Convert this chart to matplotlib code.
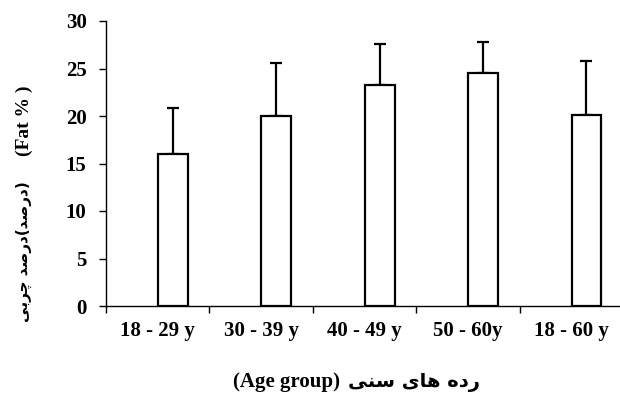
import numpy as np
import matplotlib
matplotlib.use("Agg")
import matplotlib.pyplot as plt
from matplotlib.ticker import FixedLocator, NullFormatter

# mean body fat per age group and the upper SD whisker
groups = ["18 - 29 y", "30 - 39 y", "40 - 49 y", "50 - 60y", "18 - 60 y"]
fat_mean = [16.0, 20.0, 23.3, 24.5, 20.1]
fat_sd = [4.8, 5.6, 4.3, 3.3, 5.7]
y_ticks = [0, 5, 10, 15, 20, 25, 30]

# Persian words are written in presentation forms, already in visual order
ylabel_fa = "\uFBFD\uFE91\uFEAE\uFB7C \uFEAA\uFEBB\uFEAD\uFEA9(\uFEAA\uFEBB\uFEAD\uFEA9)"
ylabel_en = "(Fat % )"
xlabel_en = "(Age group)"
xlabel_fa = "\uFBFD\uFEE8\uFEB3 \uFBFC\uFE8E\uFEEB \uFEE9\uFEA9\uFEAD"

serif = ["Liberation Serif", "DejaVu Sans"]

fig = plt.figure(figsize=(6.2, 3.95), dpi=100)
ax = fig.add_axes([106 / 620, 1 - 306 / 395, 517 / 620, 285 / 395])

x = np.arange(len(groups))
offset = 0.147
ax.bar(x + offset, fat_mean, width=0.29, color="white", edgecolor="black",
       linewidth=1.6, zorder=3)
ax.errorbar(x + offset, fat_mean, yerr=[np.zeros(len(fat_sd)), fat_sd],
            fmt="none", ecolor="black", elinewidth=1.6, capsize=4,
            capthick=1.6, zorder=2)

ax.set_xlim(-0.5, len(groups) - 0.5)
ax.set_ylim(0, 30)

# category boundaries carry the tick marks, centres carry the labels
ax.xaxis.set_major_locator(FixedLocator(np.arange(-0.5, len(groups), 1.0)))
ax.xaxis.set_major_formatter(NullFormatter())
ax.xaxis.set_minor_locator(FixedLocator(x))
ax.set_xticklabels(groups, minor=True)
ax.tick_params(axis="x", which="major", direction="out", length=5, width=1)
ax.tick_params(axis="x", which="minor", length=0, pad=11)

ax.set_yticks(y_ticks)
ax.tick_params(axis="y", direction="out", length=5, width=1, pad=9)

for lab in ax.get_xticklabels(minor=True) + ax.get_yticklabels():
    lab.set_family(serif)
    lab.set_fontweight("bold")
    lab.set_fontsize(15)

for side in ["top", "right"]:
    ax.spines[side].set_visible(False)
ax.spines["left"].set_linewidth(1)
ax.spines["bottom"].set_linewidth(1)

# y title: English part above, Persian part below, both turned upright
fig.text(24 / 620, 1 - 121 / 395, ylabel_en, rotation=90, ha="center",
         va="center", family=serif, fontweight="bold", fontsize=14)
fig.text(24 / 620, 1 - 252 / 395, ylabel_fa, rotation=90, ha="center",
         va="center", family="DejaVu Sans", fontweight="bold", fontsize=11)

# x title: English part on the left, Persian part to its right
fig.text(340 / 620, 1 - 382 / 395, xlabel_en, ha="right", va="center",
         family=serif, fontweight="bold", fontsize=15)
fig.text(348 / 620, 1 - 382 / 395, xlabel_fa, ha="left", va="center",
         family="DejaVu Sans", fontweight="bold", fontsize=14)

fig.savefig("out.png", dpi=100)
